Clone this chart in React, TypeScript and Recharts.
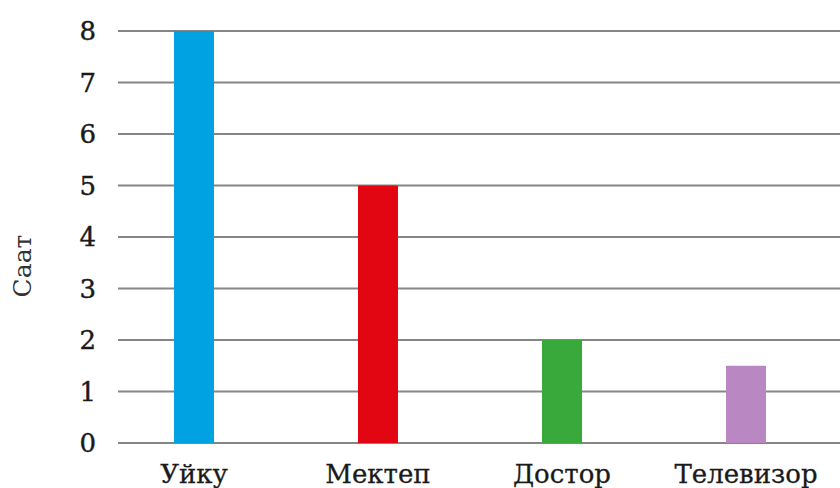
import React from "react";
import { BarChart, Bar, XAxis, YAxis, CartesianGrid, Cell, Label } from "recharts";

const categories = ["Уйку", "Мектеп", "Достор", "Телевизор"];
const hours = [8, 5, 2, 1.5];
const barColors = ["#00a2e2", "#e20613", "#3aa93c", "#b987c2"];
const yTicks = [0, 1, 2, 3, 4, 5, 6, 7, 8];
const yLabel = "Саат";

const data = categories.map((c, i) => ({ name: c, value: hours[i] }));

const FONT = "'DejaVu Serif', serif";

const YLabel = (props: any) => {
  const vb = props.viewBox || {};
  const x = (vb.x || 0) + 22;
  const y = (vb.y || 0) + (vb.height || 0) / 2 + 29;
  return (
    <text
      x={x}
      y={y}
      transform={`rotate(-90 ${x} ${y})`}
      textAnchor="middle"
      dominantBaseline="central"
      fill="#333"
      fontSize={25}
      fontFamily={FONT}
    >
      {yLabel}
    </text>
  );
};

export default function App() {
  return (
    <div style={{ position: "absolute", left: 0, top: 0, width: 840, height: 488, background: "#fff" }}>
      <BarChart
        width={840}
        height={488}
        data={data}
        margin={{ top: 31, right: 0, bottom: 0, left: 0 }}
      >
        <CartesianGrid vertical={false} stroke="#858585" strokeWidth={2} />
        <XAxis
          dataKey="name"
          height={45}
          axisLine={false}
          tickLine={false}
          tickSize={0}
          tickMargin={22}
          padding={{ left: -16, right: 2 }}
          tick={{ fill: "#1a1a1a", fontSize: 26, fontFamily: FONT, stroke: "#1a1a1a", strokeWidth: 0.3 }}
          interval={0}
        />
        <YAxis
          width={118}
          domain={[0, 8]}
          ticks={yTicks}
          axisLine={false}
          tickLine={false}
          tickSize={0}
          tickMargin={22}
          tick={{ fill: "#1a1a1a", fontSize: 26, fontFamily: FONT, stroke: "#1a1a1a", strokeWidth: 0.4 }}
        >
          <Label content={<YLabel />} />
        </YAxis>
        <Bar dataKey="value" barSize={40} isAnimationActive={false}>
          {data.map((d, i) => (
            <Cell key={d.name} fill={barColors[i]} />
          ))}
        </Bar>
      </BarChart>
    </div>
  );
}
